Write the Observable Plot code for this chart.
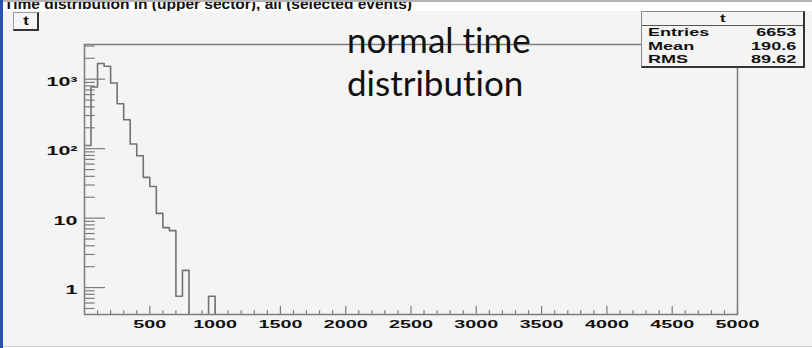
<!DOCTYPE html>
<html>
<head>
<meta charset="utf-8">
<script src="https://cdn.jsdelivr.net/npm/d3@7"></script>
<script src="https://cdn.jsdelivr.net/npm/@observablehq/plot@0.6"></script>
<style>
  html, body { margin: 0; padding: 0; background: #f4f4f4; }
  #wrap { position: relative; width: 812px; height: 348px; background: #f4f4f4; overflow: hidden; font-family: "Liberation Sans", Arial, sans-serif; }
  #wrap svg { position: absolute; left: 0; top: 0; }
  .abs { position: absolute; }
  #blue { left: 0; top: 0; width: 3px; height: 348px; background: #2850b8; }
  #titlebar { left: 3px; top: 0; width: 809px; height: 9px; background: #ffffff; border-top: 2px solid #b4b4b4; overflow: hidden; }
  #titletext { position: absolute; left: 1px; top: -6.4px; font: bold 15.5px/16px "Liberation Sans", Arial, sans-serif; color: #111; white-space: nowrap; }
  #bottomline { left: 3px; top: 346px; width: 809px; height: 1px; background: #cfcfcf; }
  #bottomwhite { left: 3px; top: 347px; width: 809px; height: 1px; background: #ffffff; }
  #tbox { left: 13px; top: 12px; width: 23px; height: 16px; border-left: 1px solid #9a9a9a; border-top: 1px solid #9a9a9a; border-right: 2px solid #333; border-bottom: 2px solid #333; font: bold 12px "Liberation Sans", Arial, sans-serif; text-align: center; line-height: 16px; color: #111; }
  #tbox span { display: inline-block; transform: scaleX(1.4); }
  #stats { left: 641px; top: 11px; width: 161px; height: 54px; border-left: 1px solid #8a8a8a; border-top: 1px solid #8a8a8a; border-right: 2px solid #333; border-bottom: 2px solid #333; background: #f4f4f4; font: bold 10.5px "Liberation Sans", Arial, sans-serif; color: #111; }
  #stats .hdr { height: 13px; line-height: 13px; text-align: center; border-bottom: 1px solid #555; }
  #stats .hdr span { display: inline-block; transform: scaleX(1.6); }
  #stats .row { position: relative; height: 13.6px; line-height: 13.6px; }
  #stats .lab { position: absolute; left: 6px; transform: scaleX(1.72); transform-origin: left center; }
  #stats .val { position: absolute; right: 7px; transform: scaleX(1.72); transform-origin: right center; }
  #note { left: 347px; top: 18px; font-family: Lato, "Open Sans", sans-serif; font-size: 35px; line-height: 43px; color: #111; white-space: nowrap; font-variant-ligatures: none; }
</style>
</head>
<body>
<div id="wrap"></div>
<script>
// ---- data ----
const binStarts = [0, 50, 100, 150, 200, 250, 300, 350, 400, 450, 500, 550, 600, 650, 700, 750, 800, 850, 900, 950];
const counts    = [111, 771, 1680, 1537, 881, 444, 261, 117, 79, 38.6, 28.6, 11.7, 7.3, 6.6, 0.75, 1.77, 0, 0, 0, 0.75];
const binWidth = 50;
const xRangeEnd = 5000;

const xMajorTicks = [500, 1000, 1500, 2000, 2500, 3000, 3500, 4000, 4500, 5000];
const xTickLabels = ["500", "1000", "1500", "2000", "2500", "3000", "3500", "4000", "4500", "5000"];
const yMajorTicks = [1, 10, 100, 1000];
const yTickLabels = ["1", "10", "10²", "10³"];
const yMinorTicks = [0.5, 0.6, 0.7, 0.8, 0.9, 2, 3, 4, 5, 6, 7, 8, 9, 20, 30, 40, 50, 60, 70, 80, 90, 200, 300, 400, 500, 600, 700, 800, 900, 2000, 3000];

const histName = "t";
const statsLabels = ["Entries", "Mean", "RMS"];
const statsValues = ["6653", "190.6", "89.62"];
const noteLines = ["normal time", "distribution"];
const titleText = "Time distribution in (upper sector), all (selected events)";

// ---- build ----
const W = 812, H = 348;
const mL = 84, mR = 75, mT = 44, mB = 34;
const frameW = W - mL - mR, frameH = H - mT - mB;
const yMin = 0.41, yMax = 3160;

const xMinorTicks = d3.range(100, xRangeEnd, 100).filter(v => v % 500 !== 0);

// outline of histogram (ROOT-style step outline)
const outline = binStarts.map((x, i) => ({x, y: Math.max(counts[i], 0.01)}));
outline.push({x: binStarts[binStarts.length - 1] + binWidth, y: 0.01});
outline.push({x: xRangeEnd, y: 0.01});

const axisGray = "#7c7c7c";
const chart = Plot.plot({
  width: W, height: H,
  marginLeft: mL, marginRight: mR, marginTop: mT, marginBottom: mB,
  style: {background: "transparent", fontFamily: "Liberation Sans, Arial, sans-serif"},
  x: {domain: [0, xRangeEnd], axis: null},
  y: {type: "log", domain: [yMin, yMax], axis: null},
  marks: [
    Plot.line(outline, {x: "x", y: "y", curve: "step-after", stroke: "#727272", strokeWidth: 1.6, clip: "frame"}),
    // x ticks (inward, ROOT style)
    Plot.ruleX(xMajorTicks, {x: d => d, insetTop: frameH - 8, stroke: axisGray, strokeWidth: 1.2}),
    Plot.ruleX(xMinorTicks, {x: d => d, insetTop: frameH - 3.8, stroke: axisGray, strokeWidth: 1.2}),
    // y ticks
    Plot.ruleY(yMajorTicks, {y: d => d, insetRight: frameW - 21, stroke: axisGray, strokeWidth: 1.2}),
    Plot.ruleY(yMinorTicks, {y: d => d, insetRight: frameW - 10.7, stroke: axisGray, strokeWidth: 1.2}),
    Plot.frame({stroke: axisGray, strokeWidth: 1.5}),
    // tick labels
    Plot.text(xMajorTicks, {x: d => d, frameAnchor: "bottom", dy: 5.5, text: (d, i) => xTickLabels[i], fontWeight: "bold", fontSize: 11.5, fill: "#111", lineAnchor: "top"}),
    Plot.text(yMajorTicks, {y: d => d, frameAnchor: "left", dx: -7, dy: 2.5, text: (d, i) => yTickLabels[i], textAnchor: "end", fontWeight: "bold", fontSize: 12.5, fill: "#111"})
  ]
});

const wrap = document.getElementById("wrap");
wrap.appendChild(chart);

// ROOT-rendered labels in the picture are horizontally stretched: widen glyphs about their anchor
const SX = 1.72;
d3.select(chart).selectAll("g[aria-label='text'] text").each(function() {
  const t = this.getAttribute("transform") || "";
  const xa = this.getAttribute("x");
  if (xa !== null && !isNaN(+xa)) this.setAttribute("x", +xa / SX);
  this.setAttribute("transform", `${t} scale(${SX},1)`);
});

function addDiv(id, html) {
  const d = document.createElement("div");
  d.id = id; d.className = "abs";
  if (html !== undefined) d.innerHTML = html;
  wrap.appendChild(d);
  return d;
}
addDiv("blue");
const tb = addDiv("titlebar");
const tt = document.createElement("div"); tt.id = "titletext"; tt.textContent = titleText; tb.appendChild(tt);
addDiv("bottomline");
addDiv("bottomwhite");
const tbox = addDiv("tbox");
const tspan = document.createElement("span"); tspan.textContent = histName; tbox.appendChild(tspan);

const stats = addDiv("stats");
const hdr = document.createElement("div"); hdr.className = "hdr";
const hs = document.createElement("span"); hs.textContent = histName; hdr.appendChild(hs);
stats.appendChild(hdr);
statsLabels.forEach((lab, i) => {
  const r = document.createElement("div"); r.className = "row";
  const a = document.createElement("span"); a.className = "lab"; a.textContent = lab;
  const b = document.createElement("span"); b.className = "val"; b.textContent = statsValues[i];
  r.appendChild(a); r.appendChild(b); stats.appendChild(r);
});

const note = addDiv("note");
noteLines.forEach(l => { const d = document.createElement("div"); d.textContent = l; note.appendChild(d); });
</script>
</body>
</html>
